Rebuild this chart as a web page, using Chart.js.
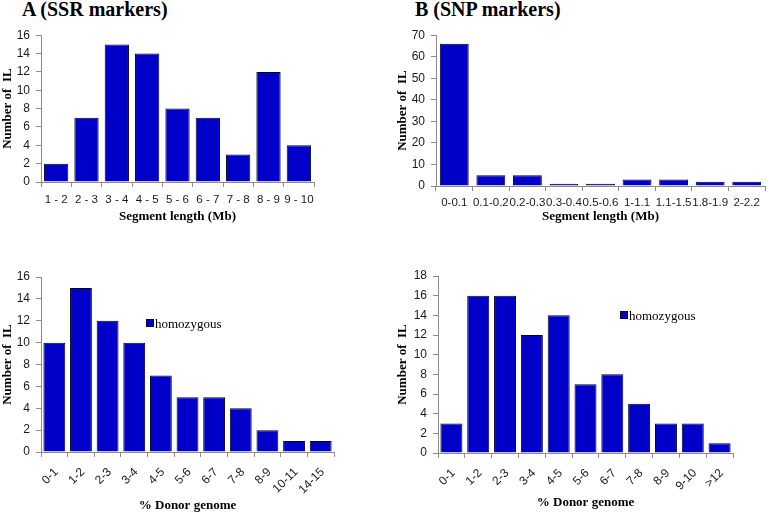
<!DOCTYPE html>
<html>
<head>
<meta charset="utf-8">
<script src="https://cdn.jsdelivr.net/npm/chart.js@4.4.1/dist/chart.umd.min.js"></script>
<style>
  html, body { margin: 0; padding: 0; background: #fff; }
  body { width: 770px; height: 513px; position: relative; overflow: hidden; }
  canvas { position: absolute; }
  .ttl { position: absolute; font-family: "Liberation Serif", "Times New Roman", serif; font-weight: bold; font-size: 20px; line-height: 20px; color: #000; white-space: nowrap; }
  .leg { position: absolute; font-family: "Liberation Serif", "Times New Roman", serif; font-size: 13px; line-height: 13px; color: #000; white-space: nowrap; }
  .leg i { display: inline-block; width: 6px; height: 6px; background: #0000C8; border: 1px solid #000033; margin-right: 1px; vertical-align: 1px; }
</style>
</head>
<body>
<div class="ttl" style="left:22px; top:-1px;">A (SSR markers)</div>
<div class="ttl" style="left:415px; top:-1px;">B (SNP markers)</div>
<canvas id="c1" width="330" height="202" style="left:0px; top:22px;"></canvas>
<canvas id="c2" width="385" height="202" style="left:385px; top:22px;"></canvas>
<canvas id="c3" width="360" height="251" style="left:0px; top:262px;"></canvas>
<canvas id="c4" width="385" height="248" style="left:385px; top:262px;"></canvas>
<div class="leg" style="left:146px; top:317px;"><i></i>homozygous</div>
<div class="leg" style="left:620px; top:309px;"><i></i>homozygous</div>
<script>
// ---- data ----
const ssrLengthCats = ['1 - 2','2 - 3','3 - 4','4 - 5','5 - 6','6 - 7','7 - 8','8 - 9','9 - 10'];
const ssrLengthVals = [2, 7, 15, 14, 8, 7, 3, 12, 4];

const snpLengthCats = ['0-0.1','0.1-0.2','0.2-0.3','0.3-0.4','0.5-0.6','1-1.1','1.1-1.5','1.8-1.9','2-2.2'];
const snpLengthVals = [66, 5, 5, 1, 1, 3, 3, 2, 2];

const ssrDonorCats = ['0-1','1-2','2-3','3-4','4-5','5-6','6-7','7-8','8-9','10-11','14-15'];
const ssrDonorVals = [10, 15, 12, 10, 7, 5, 5, 4, 2, 1, 1];

const snpDonorCats = ['0-1','1-2','2-3','3-4','4-5','5-6','6-7','7-8','8-9','9-10','>12'];
const snpDonorVals = [3, 16, 16, 12, 14, 7, 8, 5, 3, 3, 1];

const ssrLengthTicks = {max: 16, step: 2};
const snpLengthTicks = {max: 70, step: 10};
const ssrDonorTicks = {max: 16, step: 2};
const snpDonorTicks = {max: 18, step: 2};

// ---- styling ----
const BAR = '#0000C8';
const BARBORDER = '#000022';
const AXIS = '#8c8c8c';
const sansFamily = '"Liberation Sans", Arial, sans-serif';
const serifTitle = {family: '"Liberation Serif", "Times New Roman", serif', size: 13, weight: 'bold'};

function makeChart(id, cats, vals, yt, cfg) {
  return new Chart(document.getElementById(id), {
    type: 'bar',
    data: {
      labels: cats,
      datasets: [{
        label: 'homozygous',
        data: vals,
        backgroundColor: BAR,
        borderColor: BARBORDER,
        borderWidth: 1,
        categoryPercentage: 1.0,
        barPercentage: cfg.barPct
      }]
    },
    options: {
      responsive: false,
      animation: false,
      devicePixelRatio: 1,
      layout: { padding: { left: 0, top: cfg.padTop, right: cfg.padRight, bottom: 0 } },
      plugins: { legend: { display: false }, tooltip: { enabled: false } },
      scales: {
        x: {
          grid: { display: true, drawOnChartArea: false, drawTicks: true, tickLength: 5, color: AXIS, offset: true },
          border: { display: true, color: AXIS, width: 1 },
          ticks: {
            font: {family: sansFamily, size: cfg.xFont}, color: '#1a1a1a', autoSkip: false,
            maxRotation: cfg.rot, minRotation: cfg.rot, padding: cfg.xPad, labelOffset: cfg.lblOff
          },
          title: { display: true, text: cfg.xTitle, font: serifTitle, color: '#000', padding: {top: 0, bottom: 0} },
          afterFit: s => { s.height = cfg.xH; }
        },
        y: {
          min: 0, max: yt.max,
          grid: { display: true, drawOnChartArea: false, drawTicks: true, tickLength: 5, color: AXIS },
          border: { display: true, color: AXIS, width: 1 },
          ticks: { stepSize: yt.step, font: {family: sansFamily, size: 12}, color: '#1a1a1a', padding: 6 },
          title: { display: true, text: 'Number of  IL', font: serifTitle, color: '#000', padding: {top: cfg.yTitlePad, bottom: 0} },
          afterFit: s => { s.width = cfg.yW; }
        }
      }
    }
  });
}

makeChart('c1', ssrLengthCats, ssrLengthVals, ssrLengthTicks,
  {barPct: 0.8, padTop: 9, padRight: 16, rot: 0, xPad: 6, lblOff: 0, xFont: 11.5, xTitle: 'Segment length (Mb)', xH: 42, yW: 41, yTitlePad: 0});
makeChart('c2', snpLengthCats, snpLengthVals, snpLengthTicks,
  {barPct: 0.79, padTop: 10, padRight: 5, rot: 0, xPad: 5, lblOff: 0, xFont: 11.5, xTitle: 'Segment length (Mb)', xH: 38, yW: 51, yTitlePad: 10});
makeChart('c3', ssrDonorCats, ssrDonorVals, ssrDonorTicks,
  {barPct: 0.82, padTop: 15, padRight: 26, rot: 45, xPad: 8, lblOff: 2, xFont: 12, xTitle: '% Donor genome', xH: 61, yW: 41, yTitlePad: 0});
makeChart('c4', snpDonorCats, snpDonorVals, snpDonorTicks,
  {barPct: 0.82, padTop: 14, padRight: 37, rot: 45, xPad: 8, lblOff: 2, xFont: 12, xTitle: '% Donor genome', xH: 57, yW: 53, yTitlePad: 10});
</script>
</body>
</html>
